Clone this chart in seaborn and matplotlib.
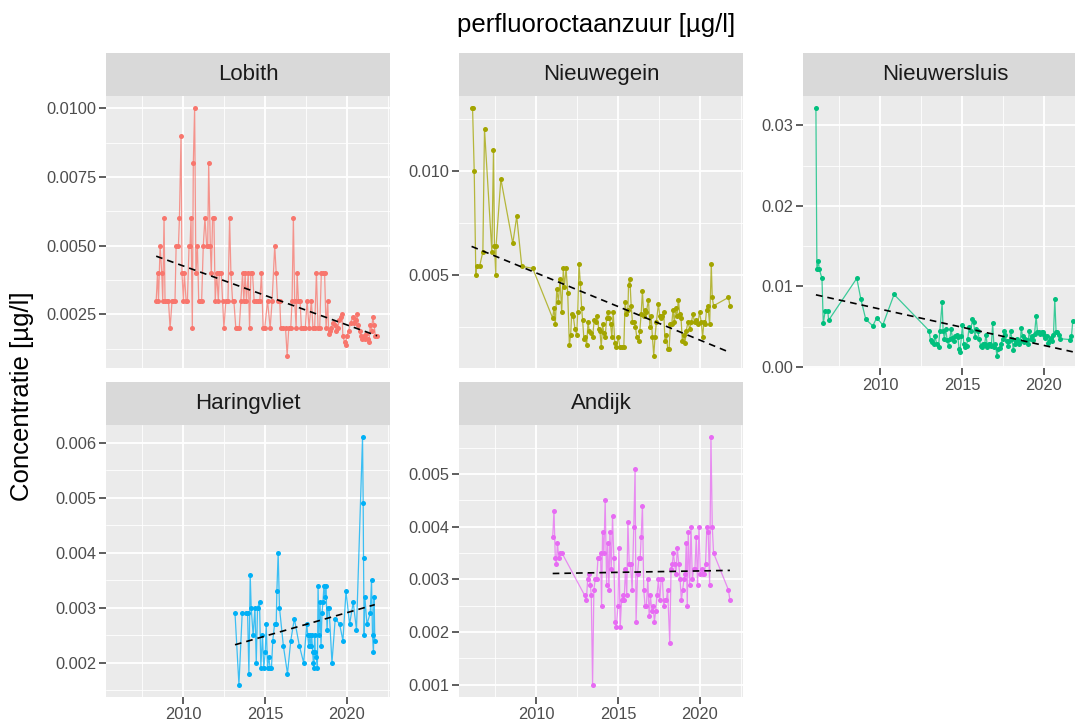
import numpy as np
import pandas as pd
import matplotlib
matplotlib.use("Agg")
import matplotlib.pyplot as plt
import seaborn as sns
from matplotlib.ticker import MultipleLocator, FormatStrFormatter

# ==========================================
# data
# ==========================================
stations = ["Lobith", "Nieuwegein", "Nieuwersluis", "Haringvliet", "Andijk"]
station_colors = ["#F8766D", "#A3A500", "#00BF7D", "#00B0F6", "#E76BF3"]

lobith_jaar = [
    2008.35, 2008.43, 2008.49, 2008.59, 2008.69, 2008.75, 2008.83, 2008.89, 2008.99, 2009.10,
    2009.20, 2009.32, 2009.40, 2009.50, 2009.57, 2009.71, 2009.77, 2009.87, 2009.93, 2010.01,
    2010.07, 2010.18, 2010.26, 2010.36, 2010.42, 2010.48, 2010.56, 2010.62, 2010.70, 2010.78,
    2010.87, 2010.95, 2011.03, 2011.13, 2011.23, 2011.33, 2011.44, 2011.50, 2011.56, 2011.66,
    2011.72, 2011.80, 2011.88, 2011.96, 2012.05, 2012.15, 2012.21, 2012.33, 2012.41, 2012.49,
    2012.61, 2012.74, 2012.84, 2012.92, 2013.02, 2013.10, 2013.22, 2013.31, 2013.43, 2013.53,
    2013.63, 2013.71, 2013.79, 2013.87, 2013.98, 2014.06, 2014.14, 2014.24, 2014.34, 2014.44,
    2014.57, 2014.69, 2014.79, 2014.89, 2014.99,
    2015.16, 2015.32, 2015.44, 2015.60, 2015.69, 2015.77, 2015.91, 2015.97, 2016.11, 2016.26,
    2016.36, 2016.46, 2016.58, 2016.66, 2016.74, 2016.82, 2016.91, 2016.97, 2017.05, 2017.15,
    2017.23, 2017.33, 2017.47, 2017.58, 2017.70, 2017.84, 2017.94, 2018.04, 2018.15, 2018.25,
    2018.35, 2018.45, 2018.55, 2018.65, 2018.74, 2018.84, 2018.90, 2018.98, 2019.06, 2019.16,
    2019.26, 2019.37, 2019.45, 2019.55, 2019.65, 2019.71, 2019.77, 2019.87, 2019.93, 2020.00,
    2020.12, 2020.24, 2020.36, 2020.44, 2020.54, 2020.63, 2020.71, 2020.79, 2020.87, 2020.95,
    2021.03, 2021.11, 2021.19, 2021.28, 2021.36, 2021.44, 2021.52, 2021.60, 2021.68, 2021.76,
    2021.86,
]
lobith_waarde = [
    0.003, 0.004, 0.003, 0.005, 0.004, 0.003, 0.006, 0.003, 0.003, 0.003,
    0.002, 0.003, 0.003, 0.003, 0.005, 0.005, 0.006, 0.009, 0.004, 0.003,
    0.004, 0.003, 0.003, 0.005, 0.005, 0.006, 0.002, 0.008, 0.010, 0.004,
    0.005, 0.003, 0.003, 0.003, 0.005, 0.006, 0.005, 0.005, 0.008, 0.005,
    0.004, 0.006, 0.006, 0.003, 0.004, 0.003, 0.004, 0.004, 0.003, 0.002,
    0.003, 0.003, 0.006, 0.004, 0.003, 0.003, 0.002, 0.002, 0.002, 0.003,
    0.004, 0.003, 0.004, 0.003, 0.004, 0.002, 0.004, 0.004, 0.003, 0.003,
    0.003, 0.003, 0.004, 0.002, 0.002,
    0.003, 0.002, 0.003, 0.005, 0.004, 0.003, 0.003, 0.002, 0.002, 0.002,
    0.001, 0.002, 0.002, 0.003, 0.006, 0.003, 0.002, 0.004, 0.003, 0.003,
    0.002, 0.002, 0.002, 0.003, 0.002, 0.003, 0.002, 0.002, 0.004, 0.002,
    0.002, 0.004, 0.004, 0.004, 0.002, 0.003, 0.0018, 0.0019, 0.0020, 0.0022,
    0.0021, 0.0019, 0.0020, 0.0023, 0.0024, 0.0025, 0.0017, 0.0015, 0.0014, 0.0017,
    0.0019, 0.0022, 0.0024, 0.0022, 0.0023, 0.0025, 0.0021, 0.0019, 0.0017, 0.0016,
    0.0017, 0.0016, 0.0018, 0.0016, 0.0015, 0.0021, 0.0019, 0.0024, 0.0021, 0.0017,
    0.0017,
]

nieuwegein_jaar = [
    2006.05, 2006.11, 2006.21, 2006.31, 2006.37, 2006.54, 2006.74, 2006.84, 2007.29, 2007.39,
    2007.45, 2007.53, 2007.55, 2007.84, 2008.57, 2008.81, 2009.12, 2009.79,
    2011.01, 2011.09, 2011.17, 2011.26, 2011.36, 2011.46, 2011.56, 2011.66, 2011.72, 2011.83,
    2011.93, 2012.03, 2012.11, 2012.17, 2012.27, 2012.37, 2012.48, 2012.54, 2012.62, 2012.70,
    2012.78, 2012.84, 2012.92, 2013.00, 2013.09, 2013.17, 2013.25, 2013.35, 2013.45, 2013.55,
    2013.65, 2013.74, 2013.82, 2013.90, 2013.98, 2014.06, 2014.14, 2014.22, 2014.31, 2014.39,
    2014.47, 2014.55, 2014.63, 2014.71, 2014.81, 2014.91, 2015.02, 2015.12, 2015.22, 2015.36,
    2015.44, 2015.52, 2015.61, 2015.65, 2015.73, 2015.81, 2015.89, 2015.97, 2016.07, 2016.15,
    2016.26, 2016.34, 2016.42, 2016.50, 2016.58, 2016.66, 2016.74, 2016.87, 2016.95, 2017.03,
    2017.11, 2017.19, 2017.27, 2017.35, 2017.48, 2017.56, 2017.64, 2017.72, 2017.80, 2017.88,
    2017.96, 2018.05, 2018.13, 2018.21, 2018.29, 2018.37, 2018.45, 2018.53, 2018.61, 2018.70,
    2018.78, 2018.86, 2018.94, 2019.02, 2019.10, 2019.18, 2019.28, 2019.39, 2019.49, 2019.59,
    2019.69, 2019.79, 2019.89, 2019.99, 2020.10, 2020.18, 2020.26, 2020.34, 2020.42, 2020.50,
    2020.61, 2020.71, 2020.77, 2020.85, 2021.76, 2021.85,
]
nieuwegein_waarde = [
    0.0130, 0.0130, 0.0100, 0.0050, 0.0054, 0.0054, 0.0061, 0.0120, 0.0061, 0.0110,
    0.0064, 0.0050, 0.0064, 0.0096, 0.0065, 0.0078, 0.0054, 0.0053,
    0.0029, 0.0034, 0.0026, 0.0043, 0.0037, 0.0048, 0.0032, 0.0053, 0.0044, 0.0053,
    0.0041, 0.0016, 0.0021, 0.0031, 0.0030, 0.0024, 0.0021, 0.0032, 0.0055, 0.0046,
    0.0034, 0.0028, 0.0019, 0.0020, 0.0016, 0.0027, 0.0023, 0.0022, 0.0020, 0.0028,
    0.0027, 0.0030, 0.0024, 0.0023, 0.0015, 0.0026, 0.0022, 0.0020, 0.0029, 0.0032,
    0.0029, 0.0026, 0.0020, 0.0032, 0.0017, 0.0015, 0.0020, 0.0015, 0.0015, 0.0015,
    0.0037, 0.0031, 0.0033, 0.0045, 0.0048, 0.0035, 0.0027, 0.0027, 0.0025, 0.0020,
    0.0018, 0.0023, 0.0031, 0.0042, 0.0030, 0.0033, 0.0032, 0.0038, 0.0025, 0.0030,
    0.0020, 0.0011, 0.0020, 0.0027, 0.0036, 0.0030, 0.0029, 0.0030, 0.0032, 0.0018,
    0.0021, 0.0014, 0.0014, 0.0026, 0.0026, 0.0033, 0.0027, 0.0034, 0.0030, 0.0038,
    0.0031, 0.0029, 0.0018, 0.0021, 0.0017, 0.0023, 0.0027, 0.0024, 0.0027, 0.0031,
    0.0027, 0.0028, 0.0026, 0.0032, 0.0027, 0.0020, 0.0027, 0.0026, 0.0033, 0.0035,
    0.0026, 0.0055, 0.0039, 0.0035, 0.0039, 0.0035,
]

nieuwersluis_jaar = [
    2006.07, 2006.13, 2006.22, 2006.28, 2006.44, 2006.52, 2006.64, 2006.79, 2006.85, 2008.57,
    2008.82, 2009.12, 2009.55, 2009.79, 2010.16, 2010.85,
    2012.99, 2013.08, 2013.18, 2013.28, 2013.36, 2013.45, 2013.57, 2013.65, 2013.79, 2013.85,
    2013.93, 2014.01, 2014.10, 2014.18, 2014.26, 2014.34, 2014.42, 2014.50, 2014.58, 2014.67,
    2014.75, 2014.83, 2014.89, 2014.97, 2015.03, 2015.11, 2015.19, 2015.28, 2015.36, 2015.44,
    2015.54, 2015.64, 2015.72, 2015.80, 2015.88, 2015.97, 2016.05, 2016.15, 2016.23, 2016.31,
    2016.39, 2016.47, 2016.56, 2016.64, 2016.72, 2016.80, 2016.88, 2016.96, 2017.04, 2017.14,
    2017.23, 2017.31, 2017.39, 2017.49, 2017.57, 2017.65, 2017.73, 2017.82, 2017.90, 2017.98,
    2018.06, 2018.14, 2018.22, 2018.30, 2018.38, 2018.47, 2018.57, 2018.63, 2018.71, 2018.79,
    2018.87, 2018.95, 2019.04, 2019.12, 2019.20, 2019.28, 2019.36, 2019.44, 2019.54, 2019.62,
    2019.71, 2019.79, 2019.87, 2019.95, 2020.03, 2020.11, 2020.19, 2020.28, 2020.36, 2020.44,
    2020.52, 2020.60, 2020.68, 2020.76, 2020.84, 2020.93, 2021.01, 2021.58, 2021.70, 2021.78,
]
nieuwersluis_waarde = [
    0.0321, 0.0121, 0.0131, 0.0121, 0.0110, 0.0054, 0.0070, 0.0070, 0.0058, 0.0110,
    0.0084, 0.0059, 0.0051, 0.0061, 0.0052, 0.0090,
    0.0045, 0.0033, 0.0031, 0.0028, 0.0038, 0.0029, 0.0025, 0.0045, 0.0080, 0.0045,
    0.0035, 0.0047, 0.0033, 0.0026, 0.0035, 0.0047, 0.0036, 0.0032, 0.0038, 0.0040,
    0.0037, 0.0022, 0.0019, 0.0038, 0.0052, 0.0029, 0.0025, 0.0026, 0.0035, 0.0050,
    0.0045, 0.0059, 0.0056, 0.0037, 0.0047, 0.0045, 0.0035, 0.0026, 0.0025, 0.0029,
    0.0028, 0.0040, 0.0025, 0.0028, 0.0029, 0.0026, 0.0054, 0.0025, 0.0029, 0.0014,
    0.0022, 0.0024, 0.0029, 0.0035, 0.0044, 0.0040, 0.0032, 0.0026, 0.0032, 0.0044,
    0.0035, 0.0021, 0.0029, 0.0032, 0.0035, 0.0029, 0.0032, 0.0048, 0.0038, 0.0031,
    0.0035, 0.0033, 0.0029, 0.0045, 0.0035, 0.0039, 0.0033, 0.0041, 0.0063, 0.0043,
    0.0043, 0.0041, 0.0043, 0.0043, 0.0040, 0.0036, 0.0038, 0.0030, 0.0033, 0.0036,
    0.0032, 0.0040, 0.0084, 0.0043, 0.0043, 0.0040, 0.0035, 0.0034, 0.0038, 0.0057,
]

haringvliet_jaar = [
    2013.17, 2013.41, 2013.61, 2013.82, 2013.94, 2014.02, 2014.10, 2014.16, 2014.28, 2014.39,
    2014.47, 2014.55, 2014.67, 2014.75, 2014.85, 2014.93, 2015.02, 2015.08, 2015.16, 2015.24,
    2015.32, 2015.40, 2015.48, 2015.59, 2015.69, 2015.73, 2015.81, 2015.89, 2016.13, 2016.38,
    2016.58, 2016.80, 2017.11, 2017.37, 2017.56, 2017.62, 2017.68, 2017.74, 2017.80, 2017.86,
    2017.92, 2017.96, 2018.00, 2018.04, 2018.08, 2018.15, 2018.21, 2018.25, 2018.31, 2018.37,
    2018.43, 2018.49, 2018.55, 2018.61, 2018.67, 2018.74, 2018.80, 2018.86, 2018.92, 2019.10,
    2019.30, 2019.57, 2019.77, 2019.96, 2020.18, 2020.40, 2020.60, 2020.97, 2021.01, 2021.03,
    2021.07, 2021.11, 2021.24, 2021.44, 2021.52, 2021.58, 2021.64, 2021.68, 2021.72,
]
haringvliet_waarde = [
    0.0029, 0.0016, 0.0029, 0.0029, 0.0029, 0.0018, 0.0036, 0.0030, 0.0025, 0.0030,
    0.0020, 0.0030, 0.0031, 0.0019, 0.0025, 0.0019, 0.0022, 0.0027, 0.0019, 0.0021,
    0.0019, 0.0019, 0.0024, 0.0027, 0.0027, 0.0033, 0.0040, 0.0030, 0.0023, 0.0018,
    0.0024, 0.0028, 0.0023, 0.0020, 0.0027, 0.0025, 0.0023, 0.0025, 0.0023, 0.0025,
    0.0022, 0.0020, 0.0019, 0.0025, 0.0022, 0.0021, 0.0019, 0.0034, 0.0025, 0.0031,
    0.0023, 0.0029, 0.0031, 0.0034, 0.0032, 0.0034, 0.0026, 0.0030, 0.0030, 0.0020,
    0.0028, 0.0027, 0.0024, 0.0033, 0.0027, 0.0031, 0.0026, 0.0061, 0.0049, 0.0039,
    0.0025, 0.0032, 0.0027, 0.0029, 0.0035, 0.0025, 0.0022, 0.0032, 0.0024,
]

andijk_jaar = [
    2011.01, 2011.09, 2011.17, 2011.24, 2011.30, 2011.38, 2011.46, 2011.58, 2012.96, 2013.07,
    2013.15, 2013.23, 2013.31, 2013.37, 2013.45, 2013.53, 2013.61, 2013.70, 2013.78, 2013.86,
    2013.94, 2014.00, 2014.06, 2014.14, 2014.22, 2014.31, 2014.37, 2014.45, 2014.51, 2014.59,
    2014.67, 2014.75, 2014.83, 2014.91, 2015.00, 2015.06, 2015.14, 2015.22, 2015.30, 2015.38,
    2015.46, 2015.54, 2015.61, 2015.69, 2015.77, 2015.87, 2015.97, 2016.05, 2016.11, 2016.20,
    2016.28, 2016.36, 2016.42, 2016.50, 2016.58, 2016.66, 2016.74, 2016.83, 2016.91, 2016.99,
    2017.07, 2017.15, 2017.23, 2017.31, 2017.39, 2017.48, 2017.56, 2017.64, 2017.72, 2017.80,
    2017.88, 2017.96, 2018.04, 2018.17, 2018.25, 2018.33, 2018.39, 2018.47, 2018.55, 2018.63,
    2018.72, 2018.80, 2018.88, 2018.96, 2019.04, 2019.12, 2019.18, 2019.24, 2019.30, 2019.39,
    2019.47, 2019.55, 2019.63, 2019.71, 2019.79, 2019.87, 2019.96, 2020.04, 2020.12, 2020.20,
    2020.28, 2020.36, 2020.44, 2020.52, 2020.61, 2020.69, 2020.77, 2020.85, 2021.76, 2021.85,
]
andijk_waarde = [
    0.0038, 0.0043, 0.0034, 0.0033, 0.0037, 0.0034, 0.0035, 0.0035, 0.0027, 0.0026,
    0.0030, 0.0031, 0.0029, 0.0027, 0.0010, 0.0028, 0.0030, 0.0030, 0.0034, 0.0034,
    0.0035, 0.0025, 0.0039, 0.0035, 0.0045, 0.0029, 0.0037, 0.0028, 0.0039, 0.0032,
    0.0042, 0.0034, 0.0022, 0.0021, 0.0025, 0.0036, 0.0021, 0.0026, 0.0027, 0.0026,
    0.0032, 0.0027, 0.0041, 0.0033, 0.0033, 0.0028, 0.0040, 0.0051, 0.0022, 0.0031,
    0.0034, 0.0034, 0.0038, 0.0044, 0.0028, 0.0025, 0.0025, 0.0030, 0.0023, 0.0027,
    0.0024, 0.0025, 0.0022, 0.0024, 0.0027, 0.0030, 0.0026, 0.0030, 0.0030, 0.0025,
    0.0026, 0.0026, 0.0028, 0.0018, 0.0032, 0.0033, 0.0035, 0.0033, 0.0031, 0.0036,
    0.0033, 0.0030, 0.0026, 0.0028, 0.0030, 0.0031, 0.0037, 0.0025, 0.0039, 0.0029,
    0.0040, 0.0030, 0.0032, 0.0032, 0.0038, 0.0029, 0.0040, 0.0031, 0.0032, 0.0031,
    0.0031, 0.0033, 0.0040, 0.0039, 0.0029, 0.0057, 0.0040, 0.0035, 0.0028, 0.0026,
]

# y-as instellingen per meetpunt: stapgrootte en aantal decimalen
y_stap = {"Lobith": 0.0025, "Nieuwegein": 0.005, "Nieuwersluis": 0.01,
          "Haringvliet": 0.001, "Andijk": 0.001}
y_fmt = {"Lobith": "%.4f", "Nieuwegein": "%.3f", "Nieuwersluis": "%.2f",
         "Haringvliet": "%.3f", "Andijk": "%.3f"}

df = pd.concat([
    pd.DataFrame({"jaar": lobith_jaar, "waarde": lobith_waarde, "locatie": "Lobith"}),
    pd.DataFrame({"jaar": nieuwegein_jaar, "waarde": nieuwegein_waarde, "locatie": "Nieuwegein"}),
    pd.DataFrame({"jaar": nieuwersluis_jaar, "waarde": nieuwersluis_waarde, "locatie": "Nieuwersluis"}),
    pd.DataFrame({"jaar": haringvliet_jaar, "waarde": haringvliet_waarde, "locatie": "Haringvliet"}),
    pd.DataFrame({"jaar": andijk_jaar, "waarde": andijk_waarde, "locatie": "Andijk"}),
], ignore_index=True)

# ==========================================
# opmaak (ggplot-achtig)
# ==========================================
sns.set_theme(style="darkgrid", rc={
    "axes.facecolor": "#EBEBEB",
    "grid.color": "white",
    "axes.edgecolor": "none",
    "xtick.color": "#333333",
    "ytick.color": "#333333",
    "xtick.labelcolor": "#4D4D4D",
    "ytick.labelcolor": "#4D4D4D",
})
plt.rcParams["font.family"] = ["Liberation Sans", "DejaVu Sans"]

W, H = 1075, 722
fig = plt.figure(figsize=(W / 100, H / 100), dpi=100)
fig.patch.set_facecolor("white")

# paneelposities in pixels (links, boven)
panel_pos = {"Lobith": (106, 96), "Nieuwegein": (459, 96), "Nieuwersluis": (803, 96),
             "Haringvliet": (106, 425), "Andijk": (459, 425)}
pw, ph, sh = 284, 272, 43
met_xlabels = {"Nieuwersluis", "Haringvliet", "Andijk"}

first_ax = None
for loc, kleur in zip(stations, station_colors):
    lx, ty = panel_pos[loc]
    ax = fig.add_axes([lx / W, 1 - (ty + ph) / H, pw / W, ph / H], sharex=first_ax)
    if first_ax is None:
        first_ax = ax
    sub = df[df["locatie"] == loc]

    sns.lineplot(data=sub, x="jaar", y="waarde", ax=ax, color=kleur, lw=0.9,
                 alpha=0.75, estimator=None, sort=True)
    sns.scatterplot(data=sub, x="jaar", y="waarde", ax=ax, color=kleur, s=13,
                    linewidth=0, zorder=3)
    sns.regplot(data=sub, x="jaar", y="waarde", ax=ax, scatter=False, ci=None,
                line_kws=dict(color="black", lw=1.2, ls=(0, (4, 3)), zorder=4))

    ax.set_xlabel("")
    ax.set_ylabel("")
    ax.margins(x=0.05, y=0.05)

    ax.xaxis.set_major_locator(MultipleLocator(5))
    ax.xaxis.set_minor_locator(MultipleLocator(2.5))
    ax.yaxis.set_major_locator(MultipleLocator(y_stap[loc]))
    ax.yaxis.set_minor_locator(MultipleLocator(y_stap[loc] / 2))
    ax.yaxis.set_major_formatter(FormatStrFormatter(y_fmt[loc]))

    ax.grid(which="major", color="white", lw=1.3)
    ax.grid(which="minor", color="white", lw=0.6)
    ax.set_axisbelow(True)
    for sp in ax.spines.values():
        sp.set_visible(False)

    ax.tick_params(axis="both", which="major", length=5, width=1.1, pad=2,
                   labelsize=11.8, left=True, bottom=True)
    ax.tick_params(axis="both", which="minor", length=0)
    if loc not in met_xlabels:
        ax.tick_params(axis="x", which="major", bottom=False, labelbottom=False)

    # strip met locatienaam
    sax = fig.add_axes([lx / W, 1 - ty / H, pw / W, sh / H])
    sax.set_facecolor("#D9D9D9")
    sax.set_xticks([])
    sax.set_yticks([])
    sax.grid(False)
    for sp in sax.spines.values():
        sp.set_visible(False)
    sax.text(0.5, 0.5, loc, ha="center", va="center", fontsize=16,
             color="#1A1A1A", transform=sax.transAxes)

first_ax.set_xlim(2005.28, 2022.65)

fig.text(596.5 / W, 1 - 25 / H, "perfluoroctaanzuur [µg/l]", ha="center",
         va="center", fontsize=18.5, color="black")
fig.text(22 / W, 1 - 396 / H, "Concentratie [µg/l]", ha="center", va="center",
         rotation=90, fontsize=18.5, color="black")

fig.savefig("out.png", dpi=100, facecolor="white")
